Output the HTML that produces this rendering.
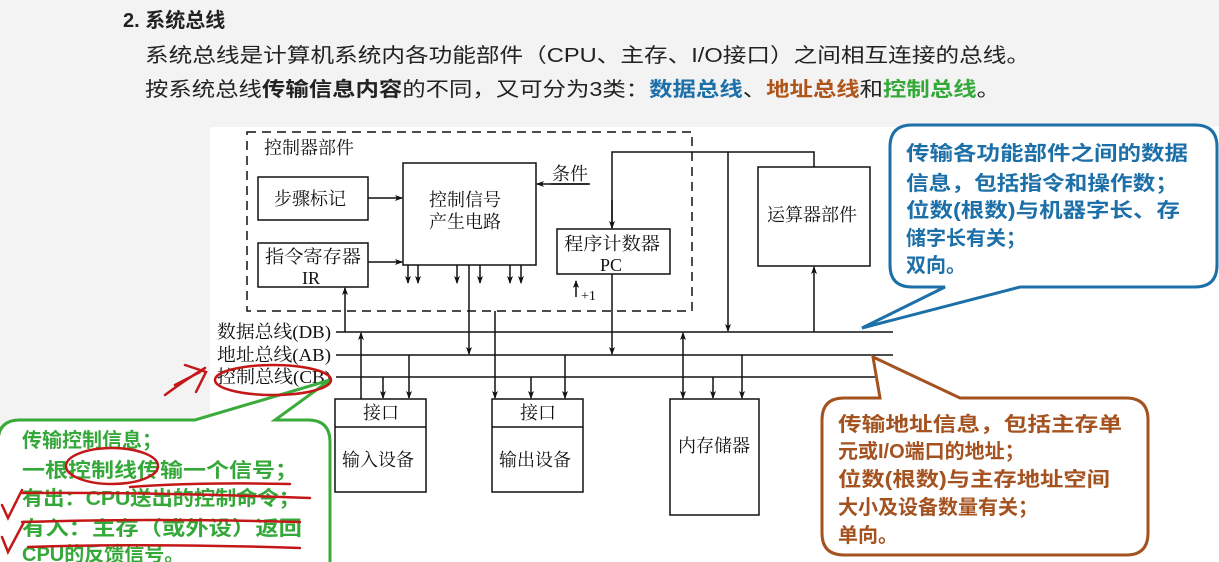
<!DOCTYPE html>
<html><head><meta charset="utf-8"><style>
html,body{margin:0;padding:0;background:#f3f3f3;}
svg{display:block;}
.s{font-family:"Liberation Serif","Noto Serif CJK SC",serif;font-size:18px;fill:#111;}
.h{font-family:"Liberation Sans","Noto Sans CJK SC",sans-serif;}
</style></head><body>
<svg width="1219" height="562" viewBox="0 0 1219 562" xmlns="http://www.w3.org/2000/svg">
<defs>
<marker id="a" markerWidth="8" markerHeight="8" refX="7" refY="4" orient="auto" markerUnits="userSpaceOnUse"><path d="M0,1 L8,4 L0,7 L2,4 Z" fill="#111"/></marker>
<marker id="b" markerWidth="8" markerHeight="8" refX="1" refY="4" orient="auto" markerUnits="userSpaceOnUse"><path d="M8,1 L0,4 L8,7 L6,4 Z" fill="#111"/></marker>
</defs>
<rect x="0" y="0" width="1219" height="562" fill="#f3f3f3"/>
<rect x="210" y="127" width="1009" height="435" fill="#fff"/>
<text class="h" x="123" y="27" font-size="20" font-weight="bold" fill="#222">2. 系统总线</text>
<text class="h" x="145" y="62" font-size="20" fill="#222" textLength="885" lengthAdjust="spacingAndGlyphs">系统总线是计算机系统内各功能部件（CPU、主存、I/O接口）之间相互连接的总线。</text>
<text class="h" x="145" y="96" font-size="20" fill="#222" textLength="855" lengthAdjust="spacingAndGlyphs">按系统总线<tspan font-weight="bold">传输信息内容</tspan>的不同，又可分为3类：<tspan font-weight="bold" fill="#1d6fa8">数据总线</tspan>、<tspan font-weight="bold" fill="#b0541a">地址总线</tspan>和<tspan font-weight="bold" fill="#35a83a">控制总线</tspan>。</text>

<g stroke="#111" stroke-width="1.5" fill="none">
<rect x="247" y="132" width="445" height="179" stroke-dasharray="9,6"/>
<rect x="258" y="177" width="110" height="43" fill="#fff"/>
<rect x="258" y="243" width="110" height="44" fill="#fff"/>
<rect x="403" y="163" width="133" height="102" fill="#fff"/>
<rect x="557" y="229" width="113" height="45" fill="#fff"/>
<rect x="758" y="167" width="112" height="99" fill="#fff"/>
<rect x="335" y="399" width="91" height="93" fill="#fff"/>
<line x1="335" y1="427" x2="426" y2="427"/>
<rect x="492" y="399" width="91" height="93" fill="#fff"/>
<line x1="492" y1="427" x2="583" y2="427"/>
<rect x="670" y="399" width="89" height="116" fill="#fff"/>
<line x1="336" y1="332" x2="893" y2="332"/>
<line x1="336" y1="355" x2="893" y2="355"/>
<line x1="336" y1="377" x2="893" y2="377"/>
<line x1="368" y1="198" x2="402" y2="198" marker-end="url(#a)"/>
<line x1="368" y1="262" x2="402" y2="262" marker-end="url(#a)"/>
<line x1="588" y1="184" x2="537" y2="184" marker-end="url(#a)"/>
<line x1="551" y1="184" x2="590" y2="184"/>
<line x1="408" y1="265" x2="408" y2="283" marker-end="url(#a)"/>
<line x1="418" y1="265" x2="418" y2="283" marker-end="url(#a)"/>
<line x1="457" y1="265" x2="457" y2="283" marker-end="url(#a)"/>
<line x1="480" y1="265" x2="480" y2="283" marker-end="url(#a)"/>
<line x1="510" y1="265" x2="510" y2="283" marker-end="url(#a)"/>
<line x1="521" y1="265" x2="521" y2="283" marker-end="url(#a)"/>
<line x1="469" y1="265" x2="469" y2="354" marker-end="url(#a)"/>
<line x1="576" y1="297" x2="576" y2="281" marker-end="url(#a)"/>
<polyline points="612,228 612,152 814,152 814,167"/>
<line x1="612" y1="200" x2="612" y2="228" marker-end="url(#a)"/>
<line x1="612" y1="274" x2="612" y2="354" marker-end="url(#a)"/>
<line x1="728" y1="152" x2="728" y2="331" marker-end="url(#a)"/>
<line x1="814" y1="332" x2="814" y2="267" marker-end="url(#a)"/>
<line x1="345" y1="332" x2="345" y2="288" marker-end="url(#a)"/>
<line x1="361" y1="399" x2="361" y2="333" marker-end="url(#a)"/>
<line x1="383" y1="377" x2="383" y2="398" marker-end="url(#a)"/>
<line x1="409" y1="355" x2="409" y2="398" marker-end="url(#a)"/>
<line x1="495" y1="311" x2="495" y2="398" marker-end="url(#a)"/>
<line x1="531" y1="377" x2="531" y2="398" marker-end="url(#a)"/>
<line x1="565" y1="355" x2="565" y2="398" marker-end="url(#a)"/>
<line x1="683" y1="333" x2="683" y2="398" marker-start="url(#b)" marker-end="url(#a)"/>
<line x1="713" y1="377" x2="713" y2="398" marker-end="url(#a)"/>
<line x1="742" y1="355" x2="742" y2="398" marker-end="url(#a)"/>
</g>
<g class="s">
<text x="264" y="154">控制器部件</text>
<text x="274" y="205">步骤标记</text>
<text x="265" y="263" textLength="96" lengthAdjust="spacingAndGlyphs">指令寄存器</text>
<text x="302" y="284">IR</text>
<text x="429" y="206">控制信号</text>
<text x="429" y="228">产生电路</text>
<text x="552" y="180">条件</text>
<text x="564" y="250" textLength="96" lengthAdjust="spacingAndGlyphs">程序计数器</text>
<text x="600" y="271">PC</text>
<text x="581" y="300" font-size="14">+1</text>
<text x="767" y="221">运算器部件</text>
<text x="217" y="338" textLength="114" lengthAdjust="spacingAndGlyphs">数据总线(DB)</text>
<text x="217" y="361" textLength="114" lengthAdjust="spacingAndGlyphs">地址总线(AB)</text>
<text x="217" y="383" textLength="114" lengthAdjust="spacingAndGlyphs">控制总线(CB)</text>
<text x="363" y="419">接口</text>
<text x="520" y="419">接口</text>
<text x="342" y="466">输入设备</text>
<text x="499" y="466">输出设备</text>
<text x="678" y="452">内存储器</text>
</g>
<path d="M912,125 H1195 Q1217,125 1217,147 V265 Q1217,287 1195,287 H1020 L862,328 L945,287 H912 Q890,287 890,265 V147 Q890,125 912,125 Z" fill="#fff" stroke="#1d6fa8" stroke-width="3"/>
<g class="h" font-size="20" fill="#1d6fa8" font-weight="bold">
<text x="906" y="160" textLength="282" lengthAdjust="spacingAndGlyphs">传输各功能部件之间的数据</text>
<text x="906" y="190" textLength="272" lengthAdjust="spacingAndGlyphs">信息，包括指令和操作数；</text>
<text x="906" y="217" textLength="274" lengthAdjust="spacingAndGlyphs">位数(根数)与机器字长、存</text>
<text x="906" y="245">储字长有关；</text>
<text x="906" y="272">双向。</text>
</g>
<path d="M844,398 H880 L873,357 L960,398 H1126 Q1148,398 1148,420 V533 Q1148,555 1126,555 H844 Q822,555 822,533 V420 Q822,398 844,398 Z" fill="#fff" stroke="#a4521f" stroke-width="3"/>
<g class="h" font-size="20" fill="#a4521f" font-weight="bold">
<text x="838" y="431" textLength="284" lengthAdjust="spacingAndGlyphs">传输地址信息，包括主存单</text>
<text x="838" y="458">元或I/O端口的地址；</text>
<text x="838" y="486" textLength="272" lengthAdjust="spacingAndGlyphs">位数(根数)与主存地址空间</text>
<text x="838" y="514">大小及设备数量有关；</text>
<text x="838" y="542">单向。</text>
</g>
<path d="M20,420 H195 L330,380 L275,420 H308 Q330,420 330,442 V575 H-2 V442 Q-2,420 20,420 Z" fill="#fff" stroke="#3aab3a" stroke-width="3"/>
<g class="h" font-size="20" fill="#35a83a" font-weight="bold">
<text x="22" y="447">传输控制信息；</text>
<text x="22" y="477" textLength="276" lengthAdjust="spacingAndGlyphs">一根控制线传输一个信号；</text>
<text x="22" y="505" textLength="278" lengthAdjust="spacingAndGlyphs">有出：CPU送出的控制命令；</text>
<text x="22" y="535" textLength="280" lengthAdjust="spacingAndGlyphs">有入：主存（或外设）返回</text>
<text x="22" y="561">CPU的反馈信号。</text>
</g>
<g stroke="#c41818" stroke-width="2.5" fill="none" stroke-linecap="round">
<ellipse cx="273" cy="380" rx="58" ry="15"/>
<path d="M165,395 Q185,380 205,368 M175,385 L200,372 M185,365 L206,372 L196,392"/>
<ellipse cx="112" cy="466" rx="46" ry="18"/>
<path d="M130,487 Q200,482 290,484"/>
<path d="M22,493 Q150,492 310,498"/>
<path d="M22,522 Q150,518 300,522"/>
<path d="M28,547 Q150,543 300,548"/>
<path d="M2,505 L8,518 L22,490 M2,537 L8,552 L24,522"/>
</g>
</svg>
</body></html>
